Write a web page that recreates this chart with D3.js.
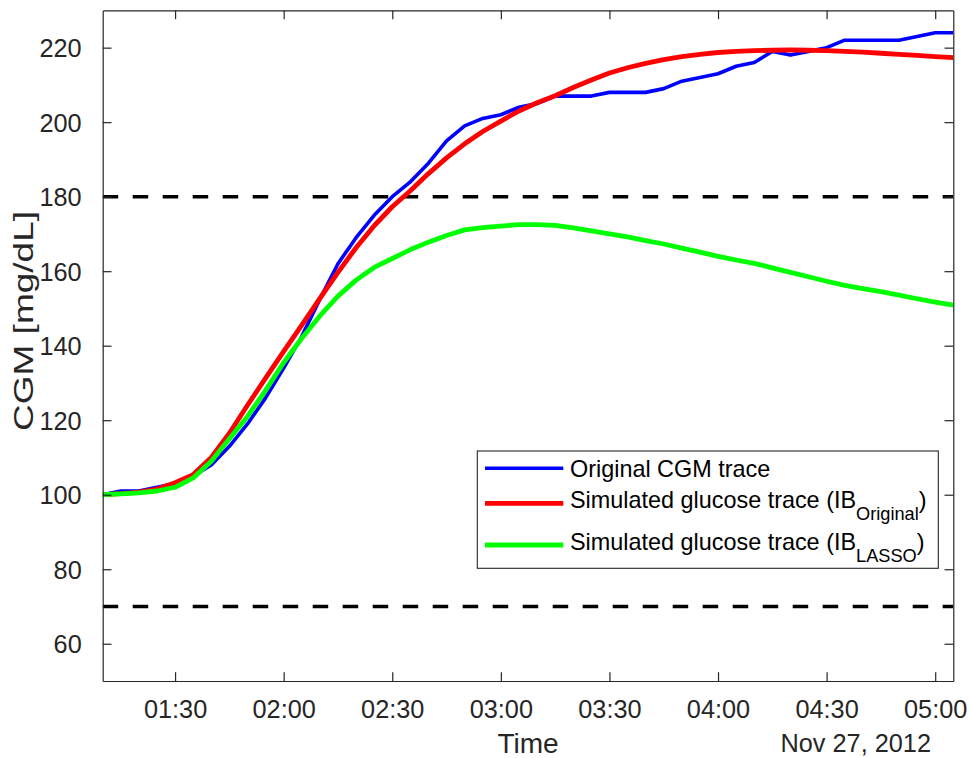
<!DOCTYPE html>
<html>
<head>
<meta charset="utf-8">
<script src="https://cdn.jsdelivr.net/npm/d3@7"></script>
<style>
  html, body { margin: 0; padding: 0; background: #ffffff; }
  svg { display: block; font-family: "Liberation Sans", Arial, Helvetica, sans-serif; }
</style>
</head>
<body>
<svg id="chart" width="969" height="758"></svg>
<script>
// ---- Data ----
const times = ["01:10","01:15","01:20","01:25","01:30","01:35","01:40","01:45","01:50","01:55",
  "02:00","02:05","02:10","02:15","02:20","02:25","02:30","02:35","02:40","02:45",
  "02:50","02:55","03:00","03:05","03:10","03:15","03:20","03:25","03:30","03:35",
  "03:40","03:45","03:50","03:55","04:00","04:05","04:10","04:15","04:20","04:25",
  "04:30","04:35","04:40","04:45","04:50","04:55","05:00","05:05"];

const cgmOriginal = [100,101,101,102,103,105,108,113,119,126,
  134,142.5,152.5,162,169,175,180,184,189,195,
  199,201,202,204,205,207,207,207,208,208,
  208,209,211,212,213,215,216,219,218,219,
  220,222,222,222,222,223,224,224];

const simIBOriginal = [100,100.3,100.7,101.5,103.2,105.4,110,116.5,124,131.3,
  138.5,145.5,152.7,159.7,166.3,172.2,177.3,181.6,186.2,190.4,
  194.2,197.5,200.3,203,205.2,207.1,209.3,211.3,213.2,214.6,
  215.8,216.8,217.6,218.2,218.7,219,219.2,219.3,219.4,219.3,
  219.2,219,218.8,218.5,218.2,217.9,217.6,217.3];

const simIBLasso = [100,100.2,100.5,101,102,104.5,109,115,121,128,
  135.5,142,148,153.3,157.6,161,163.4,165.8,167.8,169.6,
  171.1,171.7,172.1,172.5,172.5,172.3,171.6,170.8,170,169.2,
  168.2,167.3,166.2,165.1,164,163,162.1,160.9,159.7,158.5,
  157.3,156.2,155.3,154.5,153.6,152.6,151.7,150.9];

const thresholds = [180, 70];
const yTickValues = [60, 80, 100, 120, 140, 160, 180, 200, 220];
const xTickLabels = ["01:30","02:00","02:30","03:00","03:30","04:00","04:30","05:00"];
const dateLabel = "Nov 27, 2012";
const xDomainLabels = ["01:10", "05:05"];
const yDomain = [50, 230];

const seriesNames = ["Original CGM trace", "Simulated glucose trace (IB", "Simulated glucose trace (IB"];
const seriesSubs = [null, "Original", "LASSO"];
const seriesColors = ["#0000ff", "#ff0000", "#00ff00"];
const seriesWidths = [3.6, 4.8, 4.8];

(function () {
const parse = s => {
  const [h, m] = s.split(":").map(Number);
  return new Date(Date.UTC(2012, 10, 27, h, m));
};

const pLeft = 102.7, pRight = 953.3, pTop = 10.4, pBottom = 681;
const svg = d3.select("#chart");
const axisColor = "#262626";

const x = d3.scaleUtc().domain(xDomainLabels.map(parse)).range([pLeft, pRight]);
const y = d3.scaleLinear().domain(yDomain).range([pBottom, pTop]);

const tickFont = 25.3;

svg.append("defs").append("clipPath").attr("id", "plotclip")
  .append("rect").attr("x", pLeft).attr("y", pTop).attr("width", pRight - pLeft).attr("height", pBottom - pTop);

const plot = svg.append("g").attr("clip-path", "url(#plotclip)");
plot.selectAll("line.thr").data(thresholds).enter().append("line")
  .attr("class", "thr")
  .attr("x1", pLeft).attr("x2", pRight)
  .attr("y1", d => y(d)).attr("y2", d => y(d))
  .attr("stroke", "#000").attr("stroke-width", 3.6)
  .attr("stroke-dasharray", "15.5,14.5");

const allSeries = [cgmOriginal, simIBOriginal, simIBLasso];
const line = d3.line()
  .x((d, i) => x(parse(times[i])))
  .y(d => y(d));
allSeries.forEach((s, k) => {
  plot.append("path").datum(s)
    .attr("d", line)
    .attr("fill", "none")
    .attr("stroke", seriesColors[k])
    .attr("stroke-width", seriesWidths[k])
    .attr("stroke-linejoin", "round")
    .attr("stroke-linecap", "butt");
});

const tickLen = 8.8;
const xTicks = xTickLabels.map(parse);

const axB = d3.axisBottom(x).tickValues(xTicks).tickFormat(d3.utcFormat("%H:%M"))
  .tickSizeInner(-tickLen).tickSizeOuter(0);
const gB = svg.append("g").attr("transform", `translate(0,${pBottom})`).call(axB);

const axT = d3.axisTop(x).tickValues(xTicks).tickFormat("").tickSizeInner(-tickLen).tickSizeOuter(0);
const gT = svg.append("g").attr("transform", `translate(0,${pTop})`).call(axT);

const axL = d3.axisLeft(y).tickValues(yTickValues).tickFormat(d3.format("d"))
  .tickSizeInner(-tickLen).tickSizeOuter(0).tickPadding(21);
const gL = svg.append("g").attr("transform", `translate(${pLeft},0)`).call(axL);

const axR = d3.axisRight(y).tickValues(yTickValues).tickFormat("").tickSizeInner(-tickLen).tickSizeOuter(0);
const gR = svg.append("g").attr("transform", `translate(${pRight},0)`).call(axR);

[gB, gT, gL, gR].forEach(g => {
  g.select(".domain").attr("stroke", axisColor).attr("stroke-width", 1.2);
  g.selectAll(".tick line").attr("stroke", axisColor).attr("stroke-width", 1.2);
  g.selectAll(".tick text").attr("fill", axisColor).attr("font-size", tickFont)
    .attr("font-family", "'Liberation Sans', Arial, sans-serif");
});
gB.selectAll(".tick text").attr("dy", null).attr("y", 37.3);
gL.selectAll(".tick text").attr("dy", "0.36em");

svg.append("text").attr("x", (pLeft + pRight) / 2).attr("y", 753)
  .attr("text-anchor", "middle").attr("font-size", 28).attr("fill", axisColor).text("Time");
svg.append("text").attr("x", 931).attr("y", 752)
  .attr("text-anchor", "end").attr("font-size", tickFont).attr("fill", axisColor).text(dateLabel);
svg.append("text").attr("transform", "translate(33,321) rotate(-90)")
  .attr("text-anchor", "middle").attr("font-size", 28).attr("fill", axisColor)
  .attr("textLength", 220).attr("lengthAdjust", "spacingAndGlyphs")
  .text("CGM [mg/dL]");

const lg = svg.append("g");
lg.append("rect").attr("x", 477.3).attr("y", 451).attr("width", 461).attr("height", 117.3)
  .attr("fill", "#fff").attr("stroke", axisColor).attr("stroke-width", 1.1);
const rowLineY = [468.3, 503.3, 545];
const rowBase = [477.3, 508.3, 550];
seriesNames.forEach((name, k) => {
  lg.append("line").attr("x1", 485).attr("x2", 563.3)
    .attr("y1", rowLineY[k]).attr("y2", rowLineY[k])
    .attr("stroke", seriesColors[k]).attr("stroke-width", seriesWidths[k]);
  const t = lg.append("text").attr("x", 570).attr("y", rowBase[k])
    .attr("font-size", 23.4).attr("fill", "#000");
  t.append("tspan").text(name);
  if (seriesSubs[k]) {
    t.append("tspan").attr("font-size", 18.2).attr("dy", 11.7).text(seriesSubs[k]);
    t.append("tspan").attr("dy", -11.7).text(")");
  }
});
})();
</script>
</body>
</html>
